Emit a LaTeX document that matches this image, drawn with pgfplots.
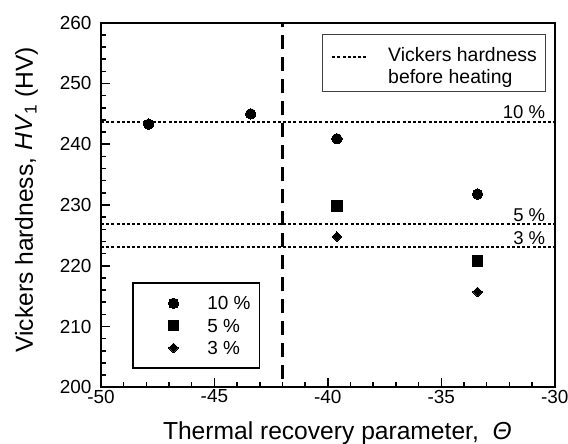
\documentclass[border=0pt]{standalone}
\usepackage{pgfplots}
\pgfplotsset{compat=1.18}
\usepackage{fontspec}
\setmainfont{Liberation Sans}
\pgfplotsset{myleg/.style={legend image code/.code={\path (-31bp,0bp) (8bp,0bp); \draw[##1] plot coordinates {(0bp,0bp)};}}}
\begin{document}
\begin{tikzpicture}
\begin{axis}[
  width=453.7bp, height=364.6bp, scale only axis,
  xmin=-50, xmax=-30, ymin=200, ymax=260,
  xtick={-50,-45,-40,-35,-30},
  ytick={200,210,220,230,240,250,260},
  minor x tick num=4, minor y tick num=4,
  tick align=inside, tick pos=left,
  major tick length=9.5bp, minor tick length=5bp,
  every tick/.style={line width=1.5bp, black},
  axis line style={line width=2bp},
  tick label style={font=\fontsize{19}{21}\selectfont},
  /pgf/number format/assume math mode=true,
  yticklabel style={xshift=-6bp},
  xticklabel style={yshift=1bp},
  xlabel={Thermal recovery parameter,\ \ \textit{Θ}},
  ylabel={Vickers hardness, \textit{HV}\textsubscript{1} (HV)},
  label style={font=\fontsize{24.7}{28}\selectfont},
  xlabel style={at={(axis description cs:0.521,-0.1445)}, anchor=base},
  ylabel style={at={(axis description cs:-0.1499,0.514)}, anchor=base},
  legend style={at={(0.0677,0.0502)}, anchor=south west, draw=black, line width=1.8bp, fill=white,
    inner xsep=9bp, inner ysep=13.7bp, row sep=9.3bp, column sep=25bp,
    cells={anchor=west}, nodes={inner sep=0pt, text height=13bp, text depth=0bp},
    font=\fontsize{19}{22}\selectfont},
]
% reference lines (hardness before heating)
\addplot[black, line width=1.6bp, dash pattern=on 3bp off 2.2bp, forget plot] coordinates {(-50,243.7) (-30,243.7)};
\addplot[black, line width=1.6bp, dash pattern=on 3bp off 2.2bp, forget plot] coordinates {(-50,226.9) (-30,226.9)};
\addplot[black, line width=1.6bp, dash pattern=on 3bp off 2.2bp, forget plot] coordinates {(-50,223.1) (-30,223.1)};
\addplot[black, line width=2.2bp, dash pattern=on 14bp off 8bp, dash phase=14bp, forget plot] coordinates {(-42,200) (-42,260)};

\addplot[black, only marks, mark=*, mark size=5.2bp, mark options={line width=0pt}, myleg]
  coordinates {(-47.9,243.3) (-43.4,245.0) (-39.6,240.9) (-33.4,231.8)};
\addlegendentry{10 \%}
\addplot[black, only marks, mark=square*, mark size=5.4bp, mark options={line width=0pt}, myleg]
  coordinates {(-39.6,229.8) (-33.4,220.8)};
\addlegendentry{5 \%}
\addplot[black, only marks, mark=square*, mark size=3.4bp, mark options={rotate=45, line width=0pt}, myleg]
  coordinates {(-39.6,224.8) (-33.4,215.7)};
\addlegendentry{3 \%}

\node[anchor=base east, font=\fontsize{18.6}{20}\selectfont, xshift=-6bp, yshift=2.8bp] at (axis cs:-30,243.7) {10 \%};
\node[anchor=base east, font=\fontsize{18.6}{20}\selectfont, xshift=-6bp, yshift=2.8bp] at (axis cs:-30,226.9) {5 \%};
\node[anchor=base east, font=\fontsize{18.6}{20}\selectfont, xshift=-6bp, yshift=2.8bp] at (axis cs:-30,223.1) {3 \%};

% legend for the reference lines
\draw[line width=1bp, black!75] (rel axis cs:0.4871,0.810) rectangle (rel axis cs:0.9808,0.9663);
\draw[line width=1.6bp, dash pattern=on 3bp off 2.2bp] (rel axis cs:0.5096,0.9055) -- (rel axis cs:0.5891,0.9055);
\node[anchor=base west, inner sep=0pt, font=\fontsize{19.5}{22}\selectfont] at (rel axis cs:0.6326,0.8948) {Vickers hardness};
\node[anchor=base west, inner sep=0pt, font=\fontsize{19.5}{22}\selectfont] at (rel axis cs:0.6326,0.8344) {before heating};

\coordinate (sw) at (rel axis cs:0,0);
\coordinate (ne) at (rel axis cs:1,1);
\end{axis}
\pgfresetboundingbox
\path ([shift={(-101bp,-56.7bp)}]sw) rectangle ([shift={(13.3bp,22.7bp)}]ne);
\end{tikzpicture}
\end{document}
